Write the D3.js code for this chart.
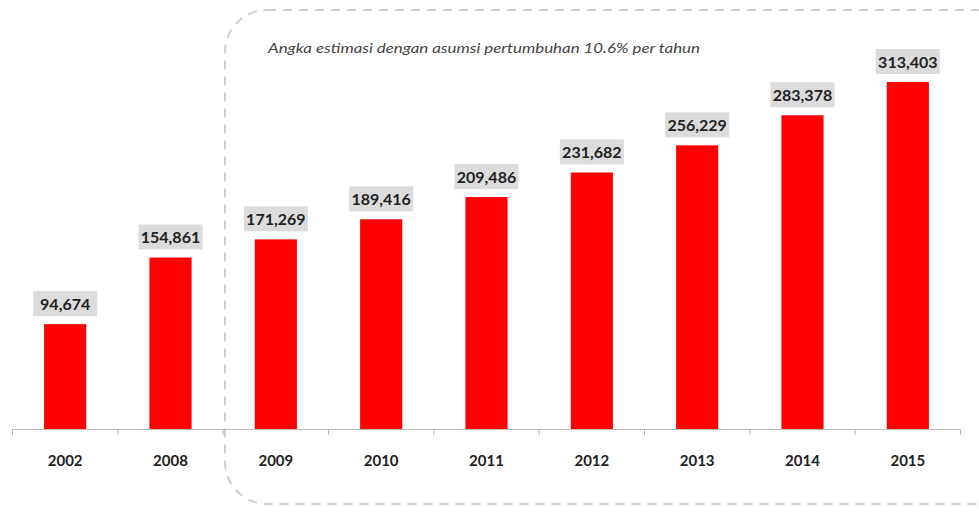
<!DOCTYPE html>
<html>
<head>
<meta charset="utf-8">
<script src="https://cdn.jsdelivr.net/npm/d3@7"></script>
<style>
body{margin:0;background:#fff;}
text{font-family:Lato,"Open Sans",sans-serif;}
</style>
</head>
<body>
<div id="canvas"></div>
<script>
var years = ['2002','2008','2009','2010','2011','2012','2013','2014','2015'];
var values = [94674,154861,171269,189416,209486,231682,256229,283378,313403];
var note = 'Angka estimasi dengan asumsi pertumbuhan 10.6% per tahun';

var W = 979, H = 512;
var svg = d3.select('#canvas').append('svg')
    .attr('width', W).attr('height', H);

var x = d3.scaleBand().domain(years).range([12.5, 960.5]).paddingInner(0.6).paddingOuter(0.3);
var y = d3.scaleLinear().domain([0, 350000]).range([429, 41.5]);

// dashed region for estimates
svg.append('rect')
    .attr('x', 225).attr('y', 10)
    .attr('width', 800).attr('height', 494)
    .attr('rx', 42).attr('ry', 42)
    .style('fill','none').style('stroke','#d0d0d0')
    .style('stroke-width',2).style('stroke-dasharray','9,7');

svg.append('text')
    .attr('x', 268).attr('y', 53)
    .attr('textLength', 432).attr('lengthAdjust','spacingAndGlyphs')
    .style('font-style','italic').style('font-size','14px').style('fill','#444')
    .text(note);

// bars
svg.selectAll('.bar').data(values).enter()
    .append('rect').attr('class','bar')
    .attr('x', function(d,i){ return x(years[i]); })
    .attr('y', function(d){ return y(d); })
    .attr('width', x.bandwidth())
    .attr('height', function(d){ return y(0) - y(d); })
    .style('fill','#ff0000');

// value labels with grey boxes
var fmt = d3.format(',');
var lab = svg.selectAll('.lab').data(values).enter().append('g').attr('class','lab')
    .attr('transform', function(d,i){
        return 'translate(' + (x(years[i]) + x.bandwidth()/2) + ',' + (y(d) - 20) + ')';
    });
lab.append('rect')
    .attr('x', -32).attr('y', -13).attr('width', 64).attr('height', 25)
    .style('fill','#dcdcdc');
lab.append('text')
    .attr('text-anchor','middle').attr('dy','0.35em')
    .style('font-weight','bold').style('font-size','16px').style('fill','#222')
    .text(function(d){ return fmt(d); });

// x axis
var axis = d3.axisBottom(x).tickSize(0).tickPadding(26);
var g = svg.append('g').attr('transform','translate(0,429)').call(axis);
g.select('.domain').style('stroke','#bbb');
g.selectAll('.tick text')
    .style('font-family','Lato,"Open Sans",sans-serif')
    .style('font-size','15px').style('font-weight','bold').style('fill','#222');
var bounds = years.map(function(d){ return x(d) - x.step()*0.3; });
bounds.push(x(years[years.length-1]) + x.bandwidth() + x.step()*0.3);
g.selectAll('.bt').data(bounds).enter().append('line')
    .attr('x1', function(d){ return d; }).attr('x2', function(d){ return d; })
    .attr('y1', 0).attr('y2', 6)
    .style('stroke','#bbb');
</script>
</body>
</html>
